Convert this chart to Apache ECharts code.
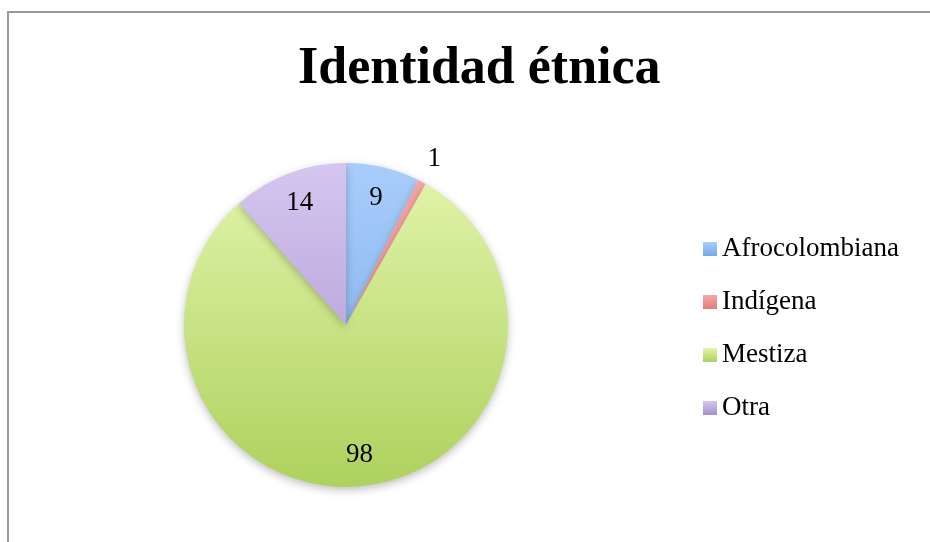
<!DOCTYPE html>
<html>
<head>
<meta charset="utf-8">
<script src="https://cdn.jsdelivr.net/npm/echarts@6/dist/echarts.min.js"></script>
<style>
  html, body { margin: 0; padding: 0; background: #fff; }
  #chart { width: 930px; height: 542px; }
</style>
</head>
<body>
<div id="chart"></div>
<script>
const categories = ["Afrocolombiana", "Indígena", "Mestiza", "Otra"];
const values = [9, 1, 98, 14];
const topColors = ["#a9cdfb", "#f7a8a6", "#e2f5ab", "#d5c6f0"];
const bottomColors = ["#74a9e6", "#e07c7a", "#aed15e", "#a690cb"];

const chart = echarts.init(document.getElementById("chart"));

const cx = 346, cy = 325, r = 162;
const font = "'Liberation Serif', serif";

// gradient over the whole pie, top light to bottom dark
const grad = (i) => ({
  type: "linear", x: 0, y: cy - r, x2: 0, y2: cy + r, global: true,
  colorStops: [
    { offset: 0, color: topColors[i] },
    { offset: 1, color: bottomColors[i] }
  ]
});
// gradient inside one legend square
const iconGrad = (i) => ({
  type: "linear", x: 0, y: 0, x2: 0, y2: 1,
  colorStops: [
    { offset: 0, color: topColors[i] },
    { offset: 1, color: bottomColors[i] }
  ]
});

const option = {
  animation: false,
  title: {
    text: "Identidad étnica",
    left: 293,
    top: 39,
    textStyle: { fontFamily: font, fontWeight: "bold", fontSize: 52, color: "#000" }
  },
  legend: {
    orient: "vertical",
    left: 698,
    top: 229,
    icon: "rect",
    itemWidth: 14,
    itemHeight: 14,
    itemGap: 23,
    data: categories.map((name, i) => ({ name, itemStyle: { color: iconGrad(i) } })),
    textStyle: { fontFamily: font, fontSize: 27, color: "#000", lineHeight: 30 }
  },
  graphic: [{
    type: "rect",
    shape: { x: 8, y: 12, width: 940, height: 560 },
    style: { fill: "none", stroke: "#999", lineWidth: 2 },
    z: 0
  }],
  series: [
    {
      type: "pie",
      center: [cx, cy],
      radius: [0, r],
      startAngle: 90,
      clockwise: true,
      label: { show: false },
      labelLine: { show: false },
      itemStyle: {
        shadowBlur: 8,
        shadowOffsetY: 3,
        shadowColor: "rgba(0,0,0,0.25)"
      },
      data: categories.map((name, i) => ({
        name, value: values[i], itemStyle: { color: grad(i) }
      }))
    },
    {
      // label ring for the inner labels
      type: "pie",
      center: [cx, cy],
      radius: [94, r],
      startAngle: 90,
      silent: true,
      legendHoverLink: false,
      itemStyle: { color: "transparent" },
      label: {
        show: true, position: "inside", formatter: "{c}",
        fontFamily: font, fontSize: 27, color: "#000"
      },
      labelLine: { show: false },
      data: categories.map((name, i) => ({
        name: "_" + name, value: values[i],
        label: { show: values[i] > 5 }
      }))
    },
    {
      // outer ring for the small slice label
      type: "pie",
      center: [cx, cy],
      radius: [150, 220],
      startAngle: 90,
      silent: true,
      legendHoverLink: false,
      itemStyle: { color: "transparent" },
      label: {
        show: true, position: "inside", formatter: "{c}",
        fontFamily: font, fontSize: 27, color: "#000"
      },
      labelLine: { show: false },
      data: categories.map((name, i) => ({
        name: "__" + name, value: values[i],
        label: { show: values[i] <= 5 }
      }))
    }
  ]
};

chart.setOption(option);
</script>
</body>
</html>
